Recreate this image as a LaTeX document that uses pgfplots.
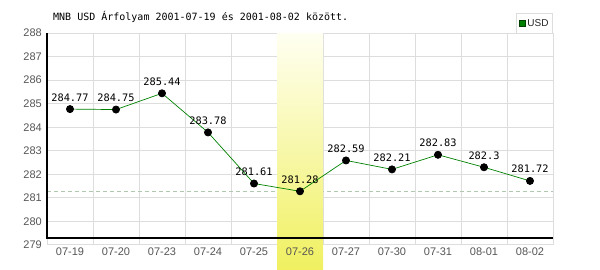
\documentclass[border=0pt]{standalone}
\usepackage{pgfplots}
\pgfplotsset{compat=1.18}
\usepackage{pgfplotstable}
\usepackage{fontspec}
\setmainfont{Liberation Sans}
\newfontfamily\monofont{DejaVu Sans Mono}
\definecolor{gridc}{HTML}{DDDDDD}
\definecolor{tickc}{HTML}{555555}
\definecolor{lineg}{HTML}{008000}
\definecolor{dashc}{HTML}{B0C8B0}
\definecolor{ytop}{HTML}{FFFFF2}
\definecolor{ybot}{HTML}{F0F060}

\pgfplotstableread{
x y lab
0 284.77 284.77
1 284.75 284.75
2 285.44 285.44
3 283.78 283.78
4 281.61 281.61
5 281.28 281.28
6 282.59 282.59
7 282.21 282.21
8 282.83 282.83
9 282.30 282.3
10 281.72 281.72
}\datatable

\begin{document}
\begin{tikzpicture}[x=1pt,y=1pt]
\begin{axis}[
 set layers=standard,
 scale only axis, width=506pt, height=212pt,
 at={(47pt,25pt)}, anchor=south west,
 xmin=-0.5, xmax=10.5, ymin=279, ymax=288,
 axis line style={draw=none},
 clip=false,
 xtick={0,...,10},
 xticklabels={07-19,07-20,07-23,07-24,07-25,07-26,07-27,07-30,07-31,08-01,08-02},
 minor xtick={-0.5,0.5,...,10.5},
 ytick={279,...,288},
 /pgf/number format/assume math mode=true,
 xminorgrids=true, ymajorgrids=true, xmajorgrids=false,
 grid style={gridc, line width=1pt},
 minor grid style={gridc, line width=1pt},
 major tick length=0pt, minor tick length=0pt,
 tick label style={font=\fontsize{11}{13}\selectfont, text=tickc},
 xticklabel style={anchor=north, inner sep=0pt, yshift=-3pt},
 yticklabel style={anchor=east, inner sep=0pt, xshift=-5pt},
 legend style={at={(1,1.094)}, anchor=north east, draw=gridc, line width=1pt, fill=white,
   font=\fontsize{10}{12}\selectfont, text=black!85, inner xsep=2pt, inner ysep=3.5pt},
 legend cell align=left,
]
\addplot[on layer=axis ticks, dashc, line width=0.8pt, dash pattern=on 4pt off 3pt, forget plot] coordinates {(-0.5,281.28) (10.5,281.28)};
\addplot[on layer=axis ticks, draw=none, top color=ytop, bottom color=ybot, forget plot] coordinates {(4.5,277.94) (4.5,288) (5.5,288) (5.5,277.94)} -- cycle;
\addplot[on layer=axis ticks, black, line width=1.2pt, forget plot] coordinates {(-0.5,288) (-0.5,279.3) (10.5,279.3)};
\addplot[lineg, line width=0.7pt, mark=*, mark size=3.6pt, mark options={fill=black, draw=black},
  point meta=explicit symbolic,
  nodes near coords={\pgfplotspointmeta},
  every node near coord/.append style={anchor=base, inner sep=0pt, yshift=8pt, text=black, font=\monofont\fontsize{10.3}{12}\selectfont},
  legend image code/.code={\draw[black!50!lineg, fill=lineg, line width=0.6pt] (0pt,-3pt) rectangle (6pt,3pt);}
] table[x=x, y=y, meta=lab] {\datatable};
\addlegendentry{USD}
\end{axis}
\node[anchor=base west, inner sep=0pt, font=\monofont\fontsize{10}{12}\selectfont] at (53,249) {MNB USD Árfolyam 2001-07-19 és 2001-08-02 között.};
\path[use as bounding box] (0,0) rectangle (600,270);
\end{tikzpicture}
\end{document}
